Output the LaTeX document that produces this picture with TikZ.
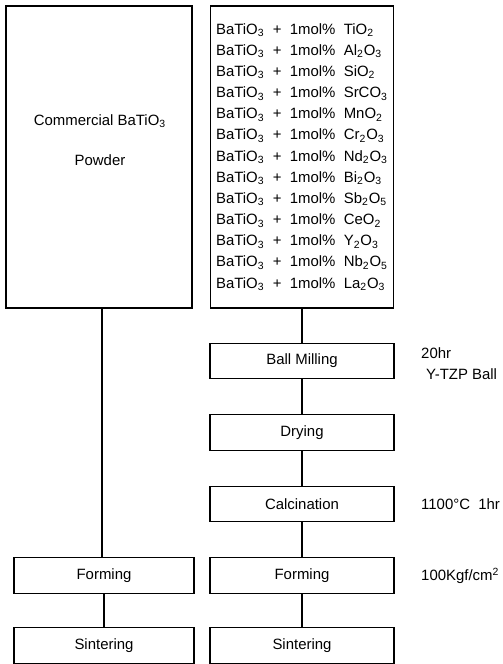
\documentclass[tikz,border=0pt]{standalone}
\usepackage{fontspec}
\setmainfont{Liberation Sans}
\usetikzlibrary{positioning}
\def\sb#1{\textsubscript{#1}}
\tikzset{
	stepbox/.style={draw, line width=0.8pt, minimum width=3.68cm, minimum height=0.71cm, font=\fontsize{8.5}{10}\selectfont},
	bigbox/.style={draw, line width=0.8pt, minimum height=6.04cm},
	note/.style={anchor=west, font=\fontsize{8.5}{10}\selectfont},
	link/.style={line width=0.6pt}
}

\begin{document}
\begin{tikzpicture}[x=0.02cm, y=-0.02cm]
		%%%%% START %%%%%
		
		\useasboundingbox (0, 0) rectangle (503, 664);
		
		\node[bigbox, minimum width=3.72cm] (powder) at (99, 157) {};
		\node[align=center, font=\fontsize{8.5}{22.7}\selectfont] (powdertxt) at (100, 140) {Commercial BaTiO\sb{3}\\Powder};
		
		\node[bigbox, minimum width=3.66cm, align=left, font=\fontsize{8.5}{12.05}\selectfont] (mix) at (302, 157) {%
			BaTiO\sb{3} \ + \ 1mol\% \ TiO\sb{2}\\
			BaTiO\sb{3} \ + \ 1mol\% \ Al\sb{2}O\sb{3}\\
			BaTiO\sb{3} \ + \ 1mol\% \ SiO\sb{2}\\
			BaTiO\sb{3} \ + \ 1mol\% \ SrCO\sb{3}\\
			BaTiO\sb{3} \ + \ 1mol\% \ MnO\sb{2}\\
			BaTiO\sb{3} \ + \ 1mol\% \ Cr\sb{2}O\sb{3}\\
			BaTiO\sb{3} \ + \ 1mol\% \ Nd\sb{2}O\sb{3}\\
			BaTiO\sb{3} \ + \ 1mol\% \ Bi\sb{2}O\sb{3}\\
			BaTiO\sb{3} \ + \ 1mol\% \ Sb\sb{2}O\sb{5}\\
			BaTiO\sb{3} \ + \ 1mol\% \ CeO\sb{2}\\
			BaTiO\sb{3} \ + \ 1mol\% \ Y\sb{2}O\sb{3}\\
			BaTiO\sb{3} \ + \ 1mol\% \ Nb\sb{2}O\sb{5}\\
			BaTiO\sb{3} \ + \ 1mol\% \ La\sb{2}O\sb{3}};
		
		\node[stepbox] (milling) at (302, 361) {Ball Milling};
		\node[stepbox] (drying) at (302, 432.5) {Drying};
		\node[stepbox] (calcination) at (302, 504) {Calcination};
		\node[stepbox] (forming) at (302, 575.5) {Forming};
		\node[stepbox] (sintering) at (302, 645.5) {Sintering};
		
		\node[stepbox, minimum width=3.6cm] (forming1) at (104, 575.5) {Forming};
		\node[stepbox, minimum width=3.6cm] (sintering1) at (104, 645.5) {Sintering};
		
		\node[note] (hours) at (415, 353) {20hr};
		\node[note] (balls) at (420, 374) {Y-TZP Ball};
		\node[note] (temp) at (415, 504) {1100\textdegree C \ 1hr};
		\node[note] (press) at (415, 576) {100Kgf/cm\textsuperscript{2}};
		
		\draw[link] (powder.south -| 102, 0) -- (forming1.north -| 102, 0);
		\draw[link] (mix) -- (milling);
		\draw[link] (milling) -- (drying);
		\draw[link] (drying) -- (calcination);
		\draw[link] (calcination) -- (forming);
		\draw[link] (forming) -- (sintering);
		\draw[link] (forming1) -- (sintering1);
		
		%%%%% END %%%%%
	\end{tikzpicture}
\end{document}
